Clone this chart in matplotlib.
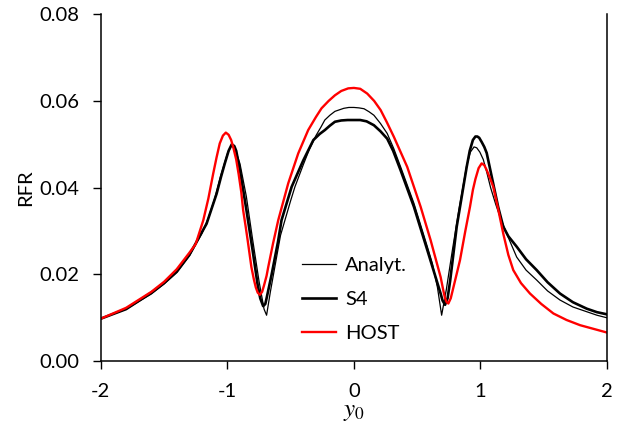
import matplotlib
matplotlib.use("Agg")
import matplotlib.pyplot as plt

# values
analyt_x = [-2.0, -1.8, -1.6, -1.5, -1.4, -1.3, -1.2, -1.15, -1.1, -1.05, -1.0, -0.97,
            -0.94, -0.9, -0.85, -0.8, -0.75, -0.71, -0.69, -0.66, -0.625, -0.58, -0.545,
            -0.5, -0.466, -0.4, -0.35, -0.3, -0.26, -0.23, -0.19, -0.15, -0.08, -0.04, 0.0,
            0.04, 0.08, 0.12, 0.158, 0.21, 0.263, 0.315, 0.369, 0.474, 0.58, 0.62, 0.66,
            0.693, 0.73, 0.78, 0.83, 0.89, 0.92, 0.949, 0.97, 0.995, 1.022, 1.05, 1.08,
            1.12, 1.154, 1.22, 1.286, 1.36, 1.444, 1.53, 1.628, 1.73, 1.84, 1.92, 2.0]
analyt_y = [0.0098, 0.0120, 0.0155, 0.0178, 0.0205, 0.0243, 0.0295, 0.0330, 0.0375, 0.0430,
            0.0478, 0.0497, 0.0490, 0.0455, 0.0380, 0.0280, 0.0185, 0.0120, 0.0106, 0.0160,
            0.0217, 0.0290, 0.0325, 0.0370, 0.0402, 0.0453, 0.0490, 0.0520, 0.0540, 0.0556,
            0.0567, 0.0576, 0.0583, 0.0585, 0.0585, 0.0584, 0.0582, 0.0575, 0.0567, 0.0548,
            0.0525, 0.0490, 0.0448, 0.0364, 0.0264, 0.0225, 0.0170, 0.0106, 0.0165, 0.0260,
            0.0350, 0.0450, 0.0482, 0.0494, 0.0492, 0.0482, 0.0465, 0.0435, 0.0400, 0.0362,
            0.0333, 0.0285, 0.0240, 0.0210, 0.0187, 0.0162, 0.0141, 0.0125, 0.0114, 0.0106,
            0.0100]

s4_x = [-2.0, -1.8, -1.6, -1.5, -1.4, -1.3, -1.2, -1.164, -1.085, -1.05, -1.02, -0.99,
        -0.965, -0.945, -0.93, -0.9, -0.85, -0.8, -0.76, -0.74, -0.717, -0.70, -0.69,
        -0.65, -0.6, -0.572, -0.492, -0.4, -0.32, -0.27, -0.229, -0.19, -0.15, -0.1,
        -0.05, 0.0, 0.05, 0.1, 0.158, 0.21, 0.263, 0.31, 0.369, 0.474, 0.58, 0.685, 0.70,
        0.72, 0.74, 0.76, 0.812, 0.891, 0.915, 0.94, 0.96, 0.975, 0.99, 1.01, 1.03,
        1.049, 1.1, 1.14, 1.18, 1.22, 1.286, 1.36, 1.444, 1.53, 1.628, 1.73, 1.84, 1.92,
        2.0]
s4_y = [0.0098, 0.0120, 0.0158, 0.0180, 0.0206, 0.0245, 0.0298, 0.0317, 0.0386, 0.0425,
        0.0456, 0.0485, 0.0500, 0.0496, 0.0485, 0.0440, 0.0350, 0.0255, 0.0175, 0.0145,
        0.0127, 0.0132, 0.0145, 0.0200, 0.0275, 0.0325, 0.0402, 0.0463, 0.0510, 0.0524,
        0.0533, 0.0543, 0.0552, 0.0555, 0.0556, 0.0556, 0.0556, 0.0553, 0.0544, 0.0530,
        0.0513, 0.0485, 0.0440, 0.0356, 0.0256, 0.0156, 0.0140, 0.0130, 0.0145, 0.0185,
        0.0310, 0.0448, 0.0485, 0.0510, 0.0518, 0.0518, 0.0515, 0.0505, 0.0494, 0.0480,
        0.0410, 0.0355, 0.0310, 0.0288, 0.0264, 0.0235, 0.0210, 0.0182, 0.0156, 0.0136,
        0.0121, 0.0113, 0.0108]

host_x = [-2.0, -1.8, -1.6, -1.5, -1.4, -1.3, -1.25, -1.19, -1.15, -1.112, -1.085, -1.06,
          -1.035, -1.012, -0.99, -0.97, -0.954, -0.93, -0.91, -0.89, -0.875, -0.855, -0.84,
          -0.81, -0.79, -0.775, -0.76, -0.743, -0.725, -0.71, -0.69, -0.677, -0.64, -0.598,
          -0.519, -0.44, -0.361, -0.3, -0.256, -0.2, -0.15, -0.1, -0.045, 0.0, 0.05, 0.105,
          0.16, 0.211, 0.26, 0.316, 0.421, 0.527, 0.606, 0.685, 0.705, 0.72, 0.733, 0.746,
          0.765, 0.79, 0.815, 0.838, 0.88, 0.917, 0.94, 0.96, 0.985, 1.009, 1.03, 1.05,
          1.075, 1.101, 1.14, 1.18, 1.22, 1.259, 1.32, 1.391, 1.48, 1.576, 1.68, 1.787,
          1.9, 2.0]
host_y = [0.0098, 0.0123, 0.0160, 0.0183, 0.0212, 0.0250, 0.0270, 0.0325, 0.0375, 0.0432,
          0.0470, 0.0502, 0.0520, 0.0527, 0.0522, 0.0510, 0.0494, 0.0465, 0.0430, 0.0390,
          0.0348, 0.0310, 0.0280, 0.0217, 0.0188, 0.0170, 0.0158, 0.0153, 0.0160, 0.0175,
          0.0197, 0.0217, 0.0270, 0.0325, 0.0410, 0.0479, 0.0533, 0.0563, 0.0583, 0.0600,
          0.0613, 0.0623, 0.0629, 0.0630, 0.0628, 0.0617, 0.0600, 0.0579, 0.0551, 0.0517,
          0.0448, 0.0356, 0.0279, 0.0194, 0.0165, 0.0145, 0.0136, 0.0133, 0.0145, 0.0175,
          0.0205, 0.0233, 0.0300, 0.0356, 0.0395, 0.0420, 0.0445, 0.0456, 0.0452, 0.0440,
          0.0422, 0.0402, 0.0350, 0.0294, 0.0245, 0.0210, 0.0180, 0.0156, 0.0132, 0.0110,
          0.0095, 0.0083, 0.0074, 0.0066]

x_ticks = [-2, -1, 0, 1, 2]
y_ticks = [0.00, 0.02, 0.04, 0.06, 0.08]

plt.rcParams.update({
    "font.family": ["Lato", "DejaVu Sans"],
    "font.size": 14.5,
    "axes.unicode_minus": False,
    "mathtext.fontset": "stix",
})

fig = plt.figure(figsize=(6.22, 4.30), dpi=100)
ax = fig.add_axes([0.162, 0.160, 0.814, 0.807])

ax.plot(analyt_x, analyt_y, color="black", linewidth=0.9, label="Analyt.")
ax.plot(s4_x, s4_y, color="black", linewidth=1.9, label="S4")
ax.plot(host_x, host_y, color="#ff0000", linewidth=1.7, label="HOST")

ax.set_xlim(-2, 2)
ax.set_ylim(0, 0.08)
ax.set_xticks(x_ticks)
ax.set_xticklabels([str(v) for v in x_ticks])
ax.set_yticks(y_ticks)
ax.set_yticklabels([f"{v:.2f}" for v in y_ticks])
ax.tick_params(direction="out", length=5.5, width=1.0, pad=10)

ax.spines["top"].set_visible(False)
for s in ("left", "bottom", "right"):
    ax.spines[s].set_linewidth(1.1)

ax.set_xlabel("$y_0$", fontsize=18, labelpad=0)
ax.set_ylabel("RFR", labelpad=4)

ax.legend(frameon=False, loc="center left", bbox_to_anchor=(0.397, 0.178),
          borderpad=0, borderaxespad=0, handlelength=1.7, handletextpad=0.45,
          labelspacing=0.85)

fig.savefig("out.png", dpi=100)
